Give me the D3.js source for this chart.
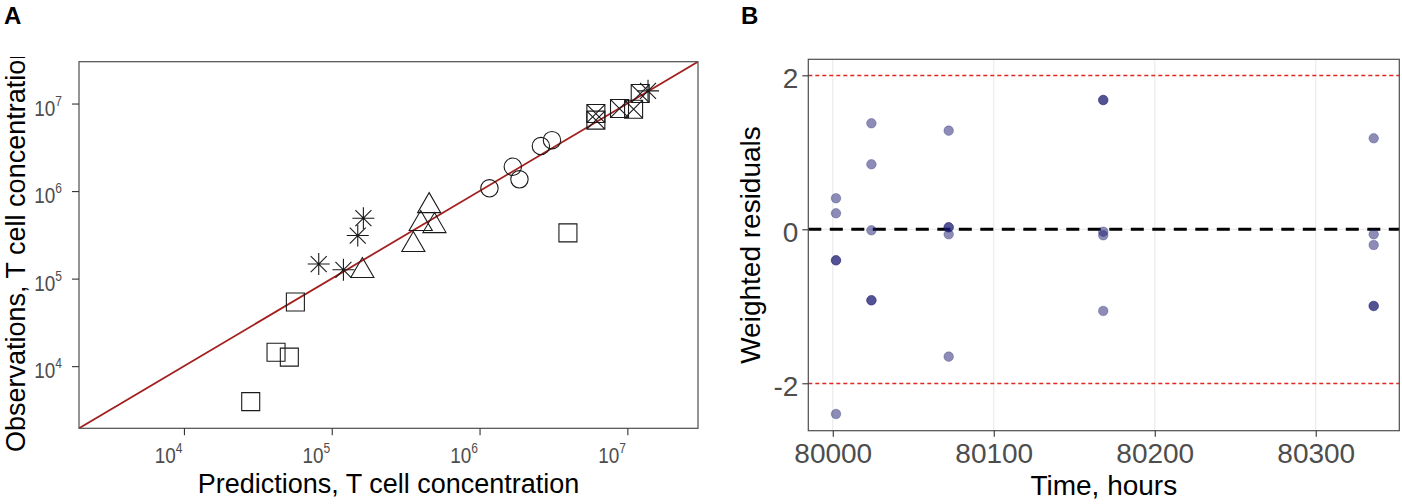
<!DOCTYPE html>
<html>
<head>
<meta charset="utf-8">
<script src="https://cdn.jsdelivr.net/npm/d3@7"></script>
<style>
  body { margin: 0; background: #fff; }
  svg { font-family: "Liberation Sans", Arial, sans-serif; }
</style>
</head>
<body>
<svg id="chart" width="1402" height="504"></svg>
<script>
// ---- panel A: observations vs predictions, one pair of arrays per marker shape
const squarePred = [28300, 41980, 51640, 56750, 3963000];
const squareObs  = [3930, 14420, 12680, 54080, 333400];
const starPred   = [81660, 119950, 149970, 163700, 13800000];
const starObs    = [146600, 126200, 310500, 489800, 13960000];
const trianglePred = [161100, 456000, 399900, 495500, 356500];
const triangleObs  = [122700, 676100, 421700, 399900, 243200];
const circlePred = [1167000, 1679000, 1862000, 2600000, 3090000];
const circleObs  = [1076000, 1897000, 1361000, 3266000, 3819000];
const boxPred = [6124000, 6124000, 8851000, 11020000, 12220000];
const boxObs  = [7691000, 6457000, 8770000, 8610000, 13000000];
const logTicks = [1e4, 1e5, 1e6, 1e7];
const logLimits = [Math.pow(10, 3.29), Math.pow(10, 7.478)];

// ---- panel B: weighted residuals over time
const resTime  = [80002, 80002, 80002, 80002, 80002,
                  80024, 80024, 80024, 80024, 80024,
                  80072, 80072, 80072, 80072, 80072,
                  80168, 80168, 80168, 80168, 80168,
                  80336, 80336, 80336, 80336, 80336];
const resValue = [0.403, 0.208, -0.403, -0.403, -2.399,
                  1.377, 0.844, -0.013, -0.922, -0.922,
                  1.281, 0.026, 0.026, -0.065, -1.654,
                  1.679, 1.679, -0.031, -0.078, -1.061,
                  1.182, -0.065, -0.204, -0.996, -0.996];
const timeTicks = [80000, 80100, 80200, 80300];
const resTicks = [-2, 0, 2];
const resBounds = [-2, 2];

const svg = d3.select("#chart");
const tickGrey = "#4d4d4d";

// ================= panel A =================
const pA = { left: 79, right: 698, top: 61.7, bottom: 428.3 };
const xA = d3.scaleLog().domain(logLimits).range([pA.left, pA.right]);
const yA = d3.scaleLog().domain(logLimits).range([pA.bottom, pA.top]);

svg.append("defs").append("clipPath").attr("id", "clipA")
  .append("rect")
  .attr("x", pA.left).attr("y", pA.top)
  .attr("width", pA.right - pA.left).attr("height", pA.bottom - pA.top);

const gA = svg.append("g");

// identity line
gA.append("line")
  .attr("clip-path", "url(#clipA)")
  .attr("x1", xA(logLimits[0])).attr("y1", yA(logLimits[0]))
  .attr("x2", xA(logLimits[1])).attr("y2", yA(logLimits[1]))
  .attr("stroke", "#a3201f")
  .attr("stroke-width", 1.8);

// marker shapes
const markerPaths = {
  square: "M-9,-9H9V9H-9Z",
  circle: d3.symbol(d3.symbolCircle, Math.PI * 8.7 * 8.7)(),
  triangle: d3.symbol(d3.symbolTriangle, 231)(),
  star: "M0,-11V11M-11,0H11M-8,-8L8,8M-8,8L8,-8",
  box: "M-9,-9H9V9H-9ZM-9,-9L9,9M-9,9L9,-9"
};

const groups = [
  { shape: "square", pred: squarePred, obs: squareObs },
  { shape: "star", pred: starPred, obs: starObs },
  { shape: "triangle", pred: trianglePred, obs: triangleObs },
  { shape: "circle", pred: circlePred, obs: circleObs },
  { shape: "box", pred: boxPred, obs: boxObs }
];

groups.forEach(g => {
  const pts = g.pred.map((p, i) => ({ p: p, o: g.obs[i] }));
  gA.append("g").selectAll("path")
    .data(pts)
    .enter().append("path")
    .attr("d", markerPaths[g.shape])
    .attr("transform", d => `translate(${xA(d.p)},${yA(d.o)})`)
    .attr("fill", "none")
    .attr("stroke", "#1a1a1a")
    .attr("stroke-width", 1.1);
});

// border
gA.append("rect")
  .attr("x", pA.left).attr("y", pA.top)
  .attr("width", pA.right - pA.left).attr("height", pA.bottom - pA.top)
  .attr("fill", "none").attr("stroke", "#4d4d4d").attr("stroke-width", 1.2);

// axes with 10^n labels
const axA_x = gA.append("g")
  .attr("transform", `translate(0,${pA.bottom})`)
  .call(d3.axisBottom(xA).tickValues(logTicks).tickSize(7).tickSizeOuter(0).tickFormat(""));
const axA_y = gA.append("g")
  .attr("transform", `translate(${pA.left},0)`)
  .call(d3.axisLeft(yA).tickValues(logTicks).tickSize(7).tickSizeOuter(0).tickFormat(""));

[axA_x, axA_y].forEach(ax => {
  ax.select(".domain").remove();
  ax.selectAll(".tick line").attr("stroke", "#333").attr("stroke-width", 1.1);
});

// labels in the original are a little condensed
const squeeze = 0.86;
function powLabel(sel) {
  sel.append("tspan").text("10");
  sel.append("tspan")
    .attr("font-size", 14)
    .attr("dy", -10)
    .text(d => Math.round(Math.log10(d)));
}

axA_x.selectAll(".tick").append("text")
  .attr("transform", `scale(${squeeze},1)`)
  .attr("x", -2 / squeeze).attr("y", 34.4)
  .attr("text-anchor", "end")
  .attr("font-size", 22)
  .attr("fill", tickGrey)
  .call(powLabel);

axA_y.selectAll(".tick").append("text")
  .attr("transform", `scale(${squeeze},1)`)
  .attr("x", -17 / squeeze).attr("y", 11.8)
  .attr("text-anchor", "end")
  .attr("font-size", 22)
  .attr("fill", tickGrey)
  .call(powLabel);

// axis titles
svg.append("text")
  .attr("x", (pA.left + pA.right) / 2).attr("y", 493.3)
  .attr("text-anchor", "middle")
  .attr("font-size", 27)
  .text("Predictions, T cell concentration");

svg.append("defs").append("clipPath").attr("id", "clipTitleA")
  .append("rect").attr("x", 0).attr("y", 57).attr("width", 70).attr("height", 447);
svg.append("g").attr("clip-path", "url(#clipTitleA)")
  .append("text")
  .attr("transform", "translate(25,452) rotate(-90)")
  .attr("text-anchor", "start")
  .attr("font-size", 27)
  .text("Observations, T cell concentration");

svg.append("text")
  .attr("x", 4).attr("y", 24)
  .attr("font-size", 24).attr("font-weight", "bold")
  .text("A");

// ================= panel B =================
const pB = { left: 808.3, right: 1399.3, top: 59.3, bottom: 430.7 };
const xB = d3.scaleLinear().domain([79984.8, 80351.9]).range([pB.left, pB.right]);
const yB = d3.scaleLinear().domain([-2.616, 2.208]).range([pB.bottom, pB.top]);

const gB = svg.append("g");

// grid (vertical, plus the zero row)
gB.append("g").selectAll("line")
  .data(timeTicks)
  .enter().append("line")
  .attr("x1", d => xB(d)).attr("x2", d => xB(d))
  .attr("y1", pB.top).attr("y2", pB.bottom)
  .attr("stroke", "#ebebeb").attr("stroke-width", 1.2);
gB.append("line")
  .attr("x1", pB.left).attr("x2", pB.right)
  .attr("y1", yB(0)).attr("y2", yB(0))
  .attr("stroke", "#ebebeb").attr("stroke-width", 1.2);

// +/-2 reference lines
gB.append("g").selectAll("line")
  .data(resBounds)
  .enter().append("line")
  .attr("x1", pB.left).attr("x2", pB.right)
  .attr("y1", d => Math.round(yB(d)) + 0.5).attr("y2", d => Math.round(yB(d)) + 0.5)
  .attr("stroke", "#e3261f").attr("stroke-width", 1.3)
  .attr("stroke-dasharray", "4,3");

// zero line
gB.append("line")
  .attr("x1", pB.left).attr("x2", pB.right)
  .attr("y1", yB(0)).attr("y2", yB(0))
  .attr("stroke", "#000").attr("stroke-width", 3)
  .attr("stroke-dasharray", "13,8.5");

// residual points
gB.append("g").selectAll("circle")
  .data(resTime.map((t, i) => ({ t: t, v: resValue[i] })))
  .enter().append("circle")
  .attr("cx", d => xB(d.t))
  .attr("cy", d => yB(d.v))
  .attr("r", 4.8)
  .attr("fill", "#191970").attr("fill-opacity", 0.5)
  .attr("stroke", "#191970").attr("stroke-opacity", 0.35).attr("stroke-width", 0.8);

// border
gB.append("rect")
  .attr("x", pB.left).attr("y", pB.top)
  .attr("width", pB.right - pB.left).attr("height", pB.bottom - pB.top)
  .attr("fill", "none").attr("stroke", "#4d4d4d").attr("stroke-width", 1.2);

const axB_x = gB.append("g")
  .attr("transform", `translate(0,${pB.bottom})`)
  .call(d3.axisBottom(xB).tickValues(timeTicks).tickSize(6).tickSizeOuter(0)
    .tickPadding(6.5).tickFormat(d => String(d)));
const axB_y = gB.append("g")
  .attr("transform", `translate(${pB.left},0)`)
  .call(d3.axisLeft(yB).tickValues(resTicks).tickSize(6).tickSizeOuter(0)
    .tickPadding(4).tickFormat(d => String(d)));

[axB_x, axB_y].forEach(ax => {
  ax.select(".domain").remove();
  ax.selectAll(".tick line").attr("stroke", "#333").attr("stroke-width", 1.1);
  ax.selectAll(".tick text")
    .attr("font-family", "Liberation Sans, Arial, sans-serif")
    .attr("font-size", 28)
    .attr("fill", tickGrey);
});
axB_y.selectAll(".tick text").attr("dy", "0.42em");

svg.append("text")
  .attr("x", (pB.left + pB.right) / 2).attr("y", 495)
  .attr("text-anchor", "middle")
  .attr("font-size", 28)
  .text("Time, hours");

svg.append("text")
  .attr("transform", `translate(760,${(pB.top + pB.bottom) / 2}) rotate(-90)`)
  .attr("text-anchor", "middle")
  .attr("font-size", 28)
  .text("Weighted residuals");

svg.append("text")
  .attr("x", 741).attr("y", 24)
  .attr("font-size", 24).attr("font-weight", "bold")
  .text("B");
</script>
</body>
</html>
